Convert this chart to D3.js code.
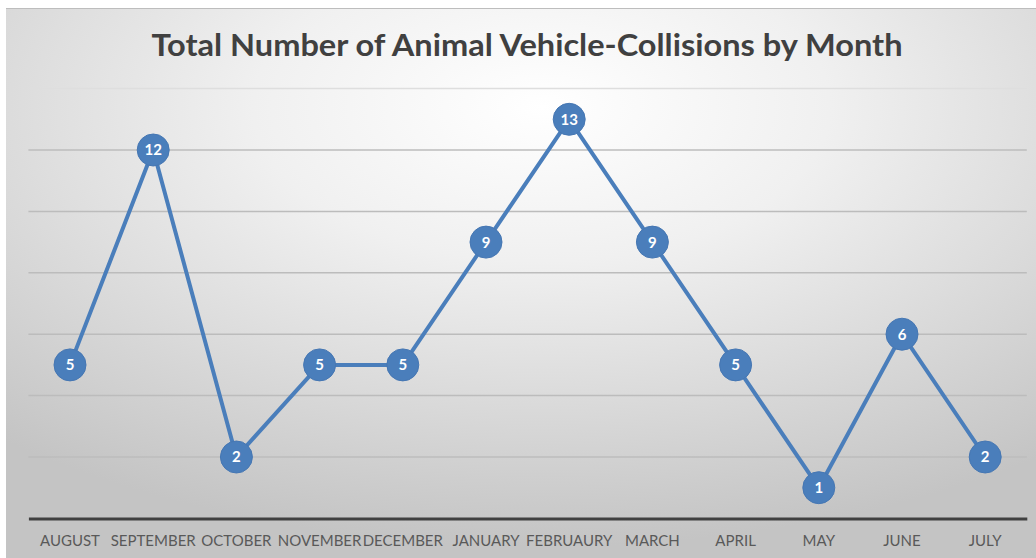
<!DOCTYPE html>
<html>
<head>
<meta charset="utf-8">
<script src="https://cdn.jsdelivr.net/npm/d3@7"></script>
<style>
  html, body { margin: 0; padding: 0; background: #ffffff; }
  svg { display: block; }
</style>
</head>
<body>
<svg id="chart" width="1036" height="558"></svg>
<script>
// Monthly collision counts (fiscal year, August through July)
const months = ["AUGUST", "SEPTEMBER", "OCTOBER", "NOVEMBER", "DECEMBER", "JANUARY",
                "FEBRUAURY", "MARCH", "APRIL", "MAY", "JUNE", "JULY"];
const collisions = [5, 12, 2, 5, 5, 9, 13, 9, 5, 1, 6, 2];
const gridValues = [2, 4, 6, 8, 10, 12, 14];
const chartTitle = "Total Number of Animal Vehicle-Collisions by Month";

const W = 1036, H = 558;
const svg = d3.select("#chart");

// Chart area background: soft radial gradient, bright near the top centre
const defs = svg.append("defs");
const grad = defs.append("radialGradient")
  .attr("id", "bg")
  .attr("cx", "52%").attr("cy", "18%")
  .attr("r", "80%");
grad.append("stop").attr("offset", "0%").attr("stop-color", "#ffffff");
grad.append("stop").attr("offset", "35%").attr("stop-color", "#f0f0f0");
grad.append("stop").attr("offset", "100%").attr("stop-color", "#c4c4c4");

svg.append("rect")
  .attr("x", 6).attr("y", 8)
  .attr("width", W - 6).attr("height", H - 8)
  .attr("fill", "url(#bg)");
svg.append("line")
  .attr("x1", 6).attr("x2", W).attr("y1", 8.5).attr("y2", 8.5)
  .attr("stroke", "#bdbdbd").attr("stroke-width", 1);

// Scales
const x = d3.scaleBand()
  .domain(months)
  .range([28.4, 1026.8])
  .padding(0);
const y = d3.scaleLinear()
  .domain([0, 14])
  .range([518.4, 88.6]);

// Horizontal gridlines
svg.append("g")
  .selectAll("line")
  .data(gridValues)
  .join("line")
  .attr("x1", x.range()[0])
  .attr("x2", x.range()[1])
  .attr("y1", d => y(d))
  .attr("y2", d => y(d))
  .attr("stroke", d => d === 14 ? "#dedede" : "#bcbcbc")
  .attr("stroke-width", 1.5);

// Category axis
const xAxis = svg.append("g")
  .attr("transform", `translate(0,${y(0)})`)
  .call(d3.axisBottom(x).tickSize(0).tickSizeOuter(0).tickPadding(17));
xAxis.select(".domain")
  .attr("stroke", "#404040")
  .attr("stroke-width", 3);
xAxis.selectAll("text")
  .attr("font-family", "Lato, 'Open Sans', sans-serif")
  .attr("font-size", 15)
  .attr("fill", "#595959");

// Title
svg.append("text")
  .attr("x", 527)
  .attr("y", 56)
  .attr("text-anchor", "middle")
  .attr("font-family", "Lato, 'Open Sans', sans-serif")
  .attr("font-weight", "bold")
  .attr("font-size", 31)
  .attr("fill", "#404040")
  .attr("textLength", 751)
  .attr("lengthAdjust", "spacingAndGlyphs")
  .text(chartTitle);

// Series line
const pts = months.map((m, i) => ({ m, v: collisions[i] }));
const line = d3.line()
  .x(d => x(d.m) + x.bandwidth() / 2)
  .y(d => y(d.v));

svg.append("path")
  .datum(pts)
  .attr("d", line)
  .attr("fill", "none")
  .attr("stroke", "#4a7ebb")
  .attr("stroke-width", 4)
  .attr("stroke-linejoin", "round");

// Markers with value labels
const marks = svg.append("g")
  .selectAll("g")
  .data(pts)
  .join("g")
  .attr("transform", d => `translate(${x(d.m) + x.bandwidth() / 2},${y(d.v)})`);

marks.append("circle")
  .attr("r", 16)
  .attr("fill", "#4a7ebb")
  .attr("stroke", "#4677b3")
  .attr("stroke-width", 1);

marks.append("text")
  .attr("text-anchor", "middle")
  .attr("dy", "0.36em")
  .attr("font-family", "Lato, 'Open Sans', sans-serif")
  .attr("font-weight", "bold")
  .attr("font-size", 15)
  .attr("fill", "#ffffff")
  .text(d => d.v);
</script>
</body>
</html>
